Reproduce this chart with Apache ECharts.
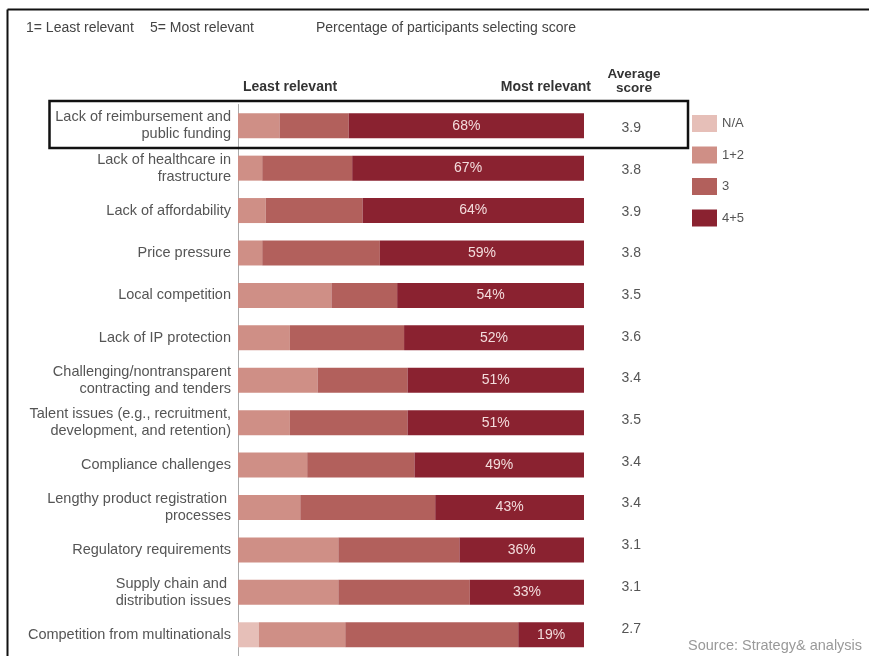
<!DOCTYPE html>
<html>
<head>
<meta charset="utf-8">
<script src="https://cdn.jsdelivr.net/npm/echarts@6/dist/echarts.min.js"></script>
<style>html,body{margin:0;padding:0;background:#fff;}#c{width:869px;height:656px;}</style>
</head>
<body>
<div id="c"></div>
<script>
var categories = [
  'Lack of reimbursement and\npublic funding',
  'Lack of healthcare in\nfrastructure',
  'Lack of affordability',
  'Price pressure',
  'Local competition',
  'Lack of IP protection',
  'Challenging/nontransparent\ncontracting and tenders',
  'Talent issues (e.g., recruitment,\ndevelopment, and retention)',
  'Compliance challenges',
  'Lengthy product registration \nprocesses',
  'Regulatory requirements',
  'Supply chain and \ndistribution issues',
  'Competition from multinationals'
];
var naValues   = [0, 0, 0, 0, 0, 0, 0, 0, 0, 0, 0, 0, 6];
var low12      = [12, 7, 8, 7, 27, 15, 23, 15, 20, 18, 29, 29, 25];
var mid3       = [20, 26, 28, 34, 19, 33, 26, 34, 31, 39, 35, 38, 50];
var high45     = [68, 67, 64, 59, 54, 52, 51, 51, 49, 43, 36, 33, 19];
var avgScores  = ['3.9', '3.8', '3.9', '3.8', '3.5', '3.6', '3.4', '3.5', '3.4', '3.4', '3.1', '3.1', '2.7'];
var seriesNames = ['N/A', '1+2', '3', '4+5'];

var colors = ['#e6bfb8', '#cf8f86', '#b2605c', '#8a2230'];
var FONT = 'Liberation Sans, Arial, sans-serif';

var chart = echarts.init(document.getElementById('c'), null, {renderer: 'canvas'});
var allData = [naValues, low12, mid3, high45];
var series = seriesNames.map(function (n, i) {
  var s = {
    name: n, type: 'bar', stack: 'total', data: allData[i],
    barWidth: 25, itemStyle: {color: colors[i]},
    xAxisIndex: 0, yAxisIndex: 0
  };
  if (i === 3) {
    s.label = {show: true, position: 'inside', formatter: '{c}%', color: '#f3dcdc',
      fontFamily: FONT, fontSize: 14};
  }
  return s;
});

chart.setOption({
  animation: false,
  backgroundColor: '#fff',
  textStyle: {fontFamily: FONT},
  color: colors,
  legend: {
    orient: 'vertical', left: 692, top: 115, padding: 0,
    itemWidth: 25, itemHeight: 17, itemGap: 14.5,
    icon: 'rect',
    textStyle: {color: '#555', fontSize: 13, fontFamily: FONT},
    data: seriesNames
  },
  grid: [
    {left: 238, top: 104.5, width: 346, height: 558},
    {left: 641, top: 107.5, width: 20, height: 542}
  ],
  xAxis: [
    {type: 'value', min: 0, max: 100, show: false, gridIndex: 0},
    {type: 'value', min: 0, max: 1, show: false, gridIndex: 1}
  ],
  yAxis: [
    {
      type: 'category', inverse: true, data: categories, gridIndex: 0,
      axisLine: {show: true, lineStyle: {color: '#aaa', width: 1}},
      axisTick: {show: false},
      axisLabel: {color: '#555', fontSize: 14.5, fontFamily: FONT, margin: 7, lineHeight: 17, align: 'right'}
    },
    {
      type: 'category', inverse: true, data: avgScores, gridIndex: 1,
      axisLine: {show: false}, axisTick: {show: false},
      axisLabel: {color: '#555', fontSize: 14, fontFamily: FONT, margin: 0}
    }
  ],
  series: series,
  graphic: [
    {type: 'line', shape: {x1: 7.5, y1: 9.5, x2: 869, y2: 9.5}, style: {stroke: '#111', lineWidth: 2}},
    {type: 'line', shape: {x1: 7.5, y1: 9.5, x2: 7.5, y2: 656}, style: {stroke: '#111', lineWidth: 2}},
    {type: 'rect', shape: {x: 49.5, y: 101, width: 638.5, height: 47}, style: {fill: 'none', stroke: '#111', lineWidth: 2.5}, z: 10},
    {type: 'text', left: 26, top: 21, style: {text: '1= Least relevant', fill: '#444', font: '14px ' + FONT}},
    {type: 'text', left: 150, top: 21, style: {text: '5= Most relevant', fill: '#444', font: '14px ' + FONT}},
    {type: 'text', left: 316, top: 21, style: {text: 'Percentage of participants selecting score', fill: '#444', font: '14px ' + FONT}},
    {type: 'text', left: 243, top: 80, style: {text: 'Least relevant', fill: '#333', font: 'bold 14px ' + FONT}},
    {type: 'text', right: 869 - 591, top: 80, style: {text: 'Most relevant', fill: '#333', font: 'bold 14px ' + FONT, textAlign: 'right'}},
    {type: 'text', x: 634, y: 67, style: {text: 'Average\nscore', fill: '#333', font: 'bold 13.5px ' + FONT, lineHeight: 14, textAlign: 'center'}},
    {type: 'text', left: 688, top: 638, style: {text: 'Source: Strategy& analysis', fill: '#999', font: '14.5px ' + FONT}}
  ]
});
</script>
</body>
</html>
